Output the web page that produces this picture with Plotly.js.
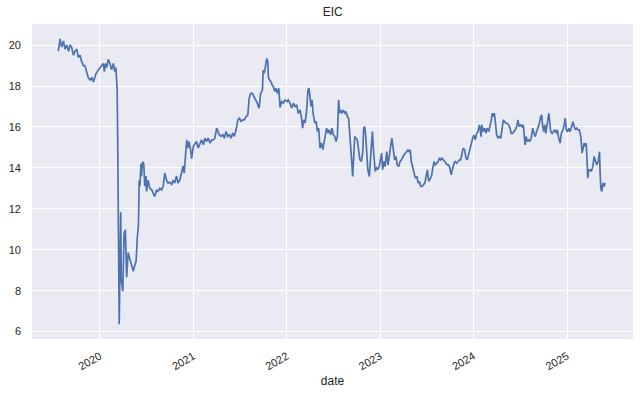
<!DOCTYPE html>
<html>
<head>
<meta charset="utf-8">
<script src="https://cdn.plot.ly/plotly-3.0.1.min.js"></script>
<style>html,body{margin:0;padding:0;background:#fff;}#chart{width:640px;height:396px;}</style>
</head>
<body>
<div id="chart"></div>
<script>
const chartTitle = "EIC";
const xLabel = "date";
const yTicks = [6, 8, 10, 12, 14, 16, 18, 20];
const xTickVals = ["2020-01-01","2021-01-01","2022-01-01","2023-01-01","2024-01-01","2025-01-01"];
const xTickText = ["2020","2021","2022","2023","2024","2025"];

const dates2019 = ["2019-07-23","2019-07-30","2019-08-05","2019-08-12","2019-08-18","2019-08-25","2019-09-01","2019-09-07","2019-09-13","2019-09-20","2019-09-26","2019-10-03","2019-10-09","2019-10-16","2019-10-22","2019-10-29","2019-11-04","2019-11-11","2019-11-17","2019-11-24","2019-12-01","2019-12-07","2019-12-11","2019-12-17","2019-12-27"];
const close2019 = [19.7,20.3,19.9,20.2,19.8,20.0,19.7,20.0,19.9,19.5,19.7,19.8,19.4,19.5,19.2,19.0,19.0,18.6,18.4,18.3,18.4,18.2,18.4,18.6,18.8];

const dates2020 = ["2020-01-02","2020-01-08","2020-01-15","2020-01-19","2020-01-23","2020-01-28","2020-02-03","2020-02-10","2020-02-16","2020-02-23","2020-02-29","2020-03-04","2020-03-07","2020-03-09","2020-03-11","2020-03-13","2020-03-15","2020-03-17","2020-03-23","2020-03-25","2020-03-31","2020-04-05","2020-04-10","2020-04-15","2020-04-21","2020-04-28","2020-05-05","2020-05-11","2020-05-18","2020-05-22","2020-05-27","2020-05-31","2020-06-02","2020-06-03","2020-06-06","2020-06-10","2020-06-12","2020-06-16","2020-06-21","2020-06-25","2020-06-30","2020-07-02","2020-07-08","2020-07-15","2020-07-22","2020-07-28","2020-08-03","2020-08-10","2020-08-16","2020-08-23","2020-08-30","2020-09-05","2020-09-11","2020-09-18","2020-09-24","2020-10-01","2020-10-08","2020-10-14","2020-10-20","2020-10-27","2020-11-02","2020-11-09","2020-11-15","2020-11-22","2020-11-26","2020-12-02","2020-12-06","2020-12-10","2020-12-15","2020-12-21","2020-12-25"];
const close2020 = [18.9,19.0,19.1,18.7,19.1,18.9,19.3,19.1,18.8,19.1,18.7,18.9,18.3,17.8,15.5,12.0,9.0,6.36,11.83,8.55,7.98,10.8,10.98,8.65,9.86,9.5,9.2,8.95,9.28,9.44,10.66,11.15,12.45,13.4,13.1,14.2,13.6,14.3,14.2,13.1,13.6,12.85,13.4,13.0,12.93,12.77,12.6,12.93,12.85,13.0,12.93,13.1,13.75,13.4,13.26,13.3,13.2,13.4,13.26,13.6,13.26,13.4,13.75,14.1,13.75,14.7,15.37,14.97,15.29,14.9,14.45];

const dates2021 = ["2021-01-01","2021-01-07","2021-01-13","2021-01-20","2021-01-27","2021-02-02","2021-02-09","2021-02-15","2021-02-22","2021-02-28","2021-03-07","2021-03-14","2021-03-20","2021-03-26","2021-04-02","2021-04-06","2021-04-12","2021-04-19","2021-04-26","2021-05-02","2021-05-09","2021-05-15","2021-05-22","2021-05-28","2021-06-04","2021-06-10","2021-06-17","2021-06-24","2021-06-30","2021-07-06","2021-07-13","2021-07-19","2021-07-26","2021-08-02","2021-08-07","2021-08-13","2021-08-20","2021-08-26","2021-09-02","2021-09-08","2021-09-15","2021-09-21","2021-09-28","2021-10-01","2021-10-05","2021-10-09","2021-10-15","2021-10-19","2021-10-21","2021-10-25","2021-10-31","2021-11-05","2021-11-10","2021-11-15","2021-11-20","2021-11-25","2021-12-01","2021-12-06","2021-12-12","2021-12-19","2021-12-25"];
const close2021 = [15.05,15.2,15.29,14.97,15.21,15.37,15.13,15.45,15.29,15.45,15.21,15.37,15.37,15.45,15.94,15.78,15.62,15.54,15.62,15.45,15.78,15.54,15.62,15.45,15.7,15.54,15.86,16.35,16.43,16.27,16.35,16.35,16.51,16.59,17.4,17.64,17.64,17.48,17.32,17.16,16.92,17.64,17.8,18.78,18.62,18.94,19.35,19.19,18.46,18.3,18.22,18.05,17.97,17.73,17.89,17.64,17.89,16.95,17.24,17.16,17.32];

const dates2022 = ["2022-01-03","2022-01-07","2022-01-14","2022-01-20","2022-01-27","2022-02-02","2022-02-09","2022-02-15","2022-02-22","2022-02-28","2022-03-04","2022-03-09","2022-03-14","2022-03-20","2022-03-25","2022-03-29","2022-04-02","2022-04-06","2022-04-10","2022-04-15","2022-04-21","2022-04-26","2022-05-01","2022-05-06","2022-05-11","2022-05-17","2022-05-22","2022-05-27","2022-06-01","2022-06-06","2022-06-11","2022-06-16","2022-06-22","2022-06-27","2022-07-02","2022-07-08","2022-07-13","2022-07-18","2022-07-23","2022-07-27","2022-07-31","2022-08-05","2022-08-10","2022-08-16","2022-08-21","2022-08-26","2022-08-31","2022-09-05","2022-09-09","2022-09-13","2022-09-16","2022-09-20","2022-09-24","2022-09-29","2022-10-04","2022-10-09","2022-10-14","2022-10-20","2022-10-25","2022-10-29","2022-11-02","2022-11-06","2022-11-10","2022-11-14","2022-11-18","2022-11-20","2022-11-24","2022-11-28","2022-12-02","2022-12-06","2022-12-10","2022-12-13","2022-12-19","2022-12-24","2022-12-29"];
const close2022 = [17.24,17.32,17.16,16.92,17.16,17.0,17.08,16.67,16.83,16.43,15.94,16.35,16.19,16.83,17.81,17.89,17.48,17.0,17.32,16.59,16.19,16.27,15.78,15.94,14.97,15.21,14.89,15.29,15.53,15.94,15.7,15.86,15.62,15.94,15.62,15.53,15.29,15.53,17.32,16.67,16.83,16.67,16.83,16.67,16.75,16.51,16.43,15.7,15.05,14.15,13.58,14.73,15.53,15.45,15.37,14.89,14.4,14.32,14.73,15.94,16.02,15.53,14.4,13.92,13.67,13.58,14.32,14.89,15.78,14.89,13.92,13.83,14.0,13.92,14.08];

const dates2023 = ["2023-01-02","2023-01-07","2023-01-11","2023-01-16","2023-01-21","2023-01-27","2023-02-01","2023-02-06","2023-02-11","2023-02-16","2023-02-21","2023-02-27","2023-03-04","2023-03-09","2023-03-15","2023-03-20","2023-03-25","2023-03-31","2023-04-05","2023-04-10","2023-04-15","2023-04-20","2023-04-25","2023-04-29","2023-05-03","2023-05-09","2023-05-14","2023-05-19","2023-05-25","2023-05-30","2023-06-04","2023-06-09","2023-06-14","2023-06-19","2023-06-25","2023-06-30","2023-07-05","2023-07-10","2023-07-16","2023-07-21","2023-07-26","2023-07-31","2023-08-05","2023-08-11","2023-08-16","2023-08-21","2023-08-26","2023-08-31","2023-09-05","2023-09-11","2023-09-16","2023-09-21","2023-09-26","2023-10-01","2023-10-06","2023-10-12","2023-10-17","2023-10-22","2023-10-27","2023-11-02","2023-11-07","2023-11-12","2023-11-17","2023-11-22","2023-11-28","2023-12-03","2023-12-08","2023-12-13","2023-12-18","2023-12-23","2023-12-29"];
const close2023 = [14.31,14.72,13.91,14.31,14.07,14.8,14.15,14.56,15.04,15.45,14.96,14.39,14.56,14.15,14.07,14.31,14.39,14.56,14.64,14.72,14.8,14.88,14.8,14.88,14.31,13.99,13.66,13.5,13.58,13.26,13.34,13.09,13.09,13.17,13.26,13.58,13.91,13.34,13.5,13.58,13.99,14.31,14.15,14.23,14.31,14.48,14.39,14.48,14.39,14.31,14.23,14.15,14.15,13.99,13.66,13.99,14.23,14.31,14.23,14.31,14.39,14.39,14.64,14.96,14.88,14.48,14.39,14.64,14.88,15.21,15.45];

const dates2024 = ["2024-01-03","2024-01-08","2024-01-14","2024-01-19","2024-01-24","2024-01-27","2024-01-31","2024-02-03","2024-02-08","2024-02-14","2024-02-19","2024-02-24","2024-03-01","2024-03-06","2024-03-11","2024-03-15","2024-03-19","2024-03-23","2024-03-27","2024-04-01","2024-04-06","2024-04-11","2024-04-17","2024-04-22","2024-04-27","2024-05-02","2024-05-07","2024-05-12","2024-05-18","2024-05-23","2024-05-28","2024-06-02","2024-06-08","2024-06-13","2024-06-18","2024-06-23","2024-06-28","2024-07-04","2024-07-09","2024-07-14","2024-07-18","2024-07-21","2024-07-25","2024-07-30","2024-08-04","2024-08-09","2024-08-14","2024-08-20","2024-08-25","2024-08-30","2024-09-04","2024-09-09","2024-09-15","2024-09-20","2024-09-24","2024-09-28","2024-10-02","2024-10-06","2024-10-10","2024-10-14","2024-10-18","2024-10-22","2024-10-26","2024-10-29","2024-11-04","2024-11-09","2024-11-14","2024-11-19","2024-11-24","2024-11-30","2024-12-05","2024-12-10","2024-12-16","2024-12-21","2024-12-25","2024-12-29"];
const close2024 = [15.61,15.37,15.69,15.77,16.1,15.94,15.53,16.1,15.77,15.94,15.69,15.94,15.77,16.02,16.35,16.67,16.51,16.67,16.18,15.61,15.45,15.53,15.45,15.94,16.35,16.26,16.18,16.18,16.1,15.94,15.69,15.69,15.77,15.86,16.02,16.35,16.02,16.1,16.02,16.1,15.53,15.12,15.53,15.29,15.37,15.29,15.45,15.94,15.69,15.53,15.77,15.94,16.18,16.51,16.59,16.02,15.77,16.1,15.69,16.02,16.26,16.67,16.18,15.77,15.69,15.77,15.86,15.69,15.86,15.45,15.21,15.69,15.86,16.1,16.43,15.86];

const dates2025 = ["2025-01-03","2025-01-08","2025-01-13","2025-01-19","2025-01-24","2025-01-29","2025-02-03","2025-02-08","2025-02-13","2025-02-18","2025-02-24","2025-03-01","2025-03-05","2025-03-09","2025-03-13","2025-03-17","2025-03-21","2025-03-23","2025-03-27","2025-04-01","2025-04-06","2025-04-12","2025-04-17","2025-04-22","2025-04-27","2025-05-03","2025-05-08","2025-05-10","2025-05-13","2025-05-17","2025-05-21","2025-05-26","2025-05-30"];
const close2025 = [15.77,15.94,15.77,16.02,16.26,16.02,15.86,15.94,15.86,15.86,15.53,14.72,14.96,15.21,15.04,15.21,14.23,13.5,13.91,13.91,13.83,14.07,14.56,14.31,14.15,14.31,14.8,13.91,13.01,12.85,13.26,13.09,13.26];

const dates = [].concat(dates2019, dates2020, dates2021, dates2022, dates2023, dates2024, dates2025);
const closes = [].concat(close2019, close2020, close2021, close2022, close2023, close2024, close2025);

const textColor = "#262626";
const trace = {
  x: dates, y: closes, type: "scatter", mode: "lines",
  line: {color: "#4C72B0", width: 1.7},
  hoverinfo: "skip"
};
const layout = {
  width: 640, height: 396,
  paper_bgcolor: "#ffffff", plot_bgcolor: "#EAEAF2",
  margin: {l: 32, r: 7, t: 24, b: 57},
  showlegend: false,
  title: {text: chartTitle, x: 0.52, xanchor: "center", y: 0.982, yanchor: "top",
          font: {family: "Liberation Sans, Arial, sans-serif", size: 12, color: textColor}},
  font: {family: "Liberation Sans, Arial, sans-serif", size: 11, color: textColor},
  xaxis: {
    type: "date", range: ["2019-04-11", "2025-09-16"],
    tickmode: "array", tickvals: xTickVals, ticktext: xTickText,
    tickangle: -30, ticks: "", showline: false, zeroline: false,
    gridcolor: "#ffffff", gridwidth: 1,
    tickfont: {size: 11, color: textColor},
    ticklabelstandoff: 8,
    title: {text: xLabel, font: {size: 12, color: textColor}, standoff: 5},
    automargin: false
  },
  yaxis: {
    range: [5.64, 21.03], tickmode: "array", tickvals: yTicks,
    ticks: "", showline: false, zeroline: false,
    gridcolor: "#ffffff", gridwidth: 1,
    tickfont: {size: 11, color: textColor},
    ticklabelstandoff: 10,
    automargin: false
  }
};
Plotly.newPlot("chart", [trace], layout, {staticPlot: true, displayModeBar: false});
</script>
</body>
</html>
